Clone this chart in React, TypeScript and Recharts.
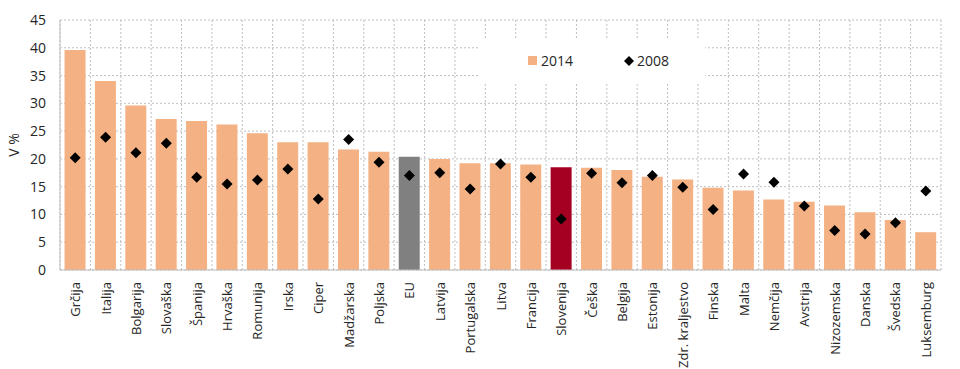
import { ComposedChart, Bar, Line, XAxis, YAxis, CartesianGrid, Cell } from 'recharts';

// Stopnja tveganja revščine ali socialne izključenosti, 2014 vs 2008
const countries = [
    'Grčija', 'Italija', 'Bolgarija', 'Slovaška', 'Španija', 'Hrvaška', 'Romunija', 'Irska', 'Ciper',
    'Madžarska', 'Poljska', 'EU', 'Latvija', 'Portugalska', 'Litva', 'Francija', 'Slovenija', 'Češka',
    'Belgija', 'Estonija', 'Zdr. kraljestvo', 'Finska', 'Malta', 'Nemčija', 'Avstrija', 'Nizozemska',
    'Danska', 'Švedska', 'Luksemburg',
];
const values2014 = [
    39.6, 34.0, 29.6, 27.2, 26.8, 26.2, 24.6, 23.0, 23.0,
    21.7, 21.3, 20.4, 20.0, 19.2, 19.2, 19.0, 18.5, 18.4,
    18.0, 16.8, 16.3, 14.8, 14.3, 12.7, 12.3, 11.6,
    10.4, 9.0, 6.8,
];
const values2008 = [
    20.2, 23.9, 21.1, 22.8, 16.7, 15.5, 16.2, 18.2, 12.8,
    23.5, 19.4, 17.0, 17.5, 14.6, 19.1, 16.7, 9.2, 17.4,
    15.7, 17.0, 14.9, 10.9, 17.3, 15.8, 11.5, 7.1,
    6.5, 8.5, 14.2,
];
const yTicks = [0, 5, 10, 15, 20, 25, 30, 35, 40, 45];

const data = countries.map((name, i) => ({ name, y2014: values2014[i], y2008: values2008[i] }));

const FONT = "'Segoe UI', 'Open Sans', sans-serif";
const ORANGE = '#F4B183';
const GRID = '#BFBFBF';
const TEXT = '#262626';

const barColor = (name: string) => (name === 'EU' ? '#808080' : name === 'Slovenija' ? '#A50021' : ORANGE);

function CountryTick({ x, y, payload }: any) {
    return (
        <text
            transform={`translate(${x},${y + 4}) rotate(-90)`}
            textAnchor="end"
            dominantBaseline="central"
            fontSize={13}
            fontFamily={FONT}
            fill={TEXT}
        >
            {payload.value}
        </text>
    );
}

function Diamond({ cx, cy }: any) {
    if (cx == null || cy == null) return null;
    const r = 5.5;
    return <polygon points={`${cx},${cy - r} ${cx + r},${cy} ${cx},${cy + r} ${cx - r},${cy}`} fill="#000" />;
}

function LegendBox() {
    return (
        <div
            style={{
                position: 'absolute',
                left: 480,
                top: 38,
                width: 225,
                height: 45,
                background: '#fff',
                display: 'flex',
                alignItems: 'center',
                fontFamily: FONT,
                fontSize: 14,
                color: TEXT,
            }}
        >
            <span style={{ display: 'inline-block', width: 9, height: 9, background: ORANGE, marginLeft: 48, marginRight: 4 }} />
            <span>2014</span>
            <svg width={12} height={12} style={{ marginLeft: 50, marginRight: 2 }}>
                <polygon points="6,1 11,6 6,11 1,6" fill="#000" />
            </svg>
            <span>2008</span>
        </div>
    );
}

export default function App() {
    return (
        <div style={{ position: 'absolute', left: 0, top: 0, width: 960, height: 369, background: '#fff' }}>
            <ComposedChart
                width={960}
                height={369}
                data={data}
                margin={{ top: 20, right: 19, bottom: 0, left: 0 }}
                barCategoryGap="15%"
            >
                <CartesianGrid
                    stroke={GRID}
                    strokeDasharray="2 2"
                    verticalCoordinatesGenerator={({ offset }: any) =>
                        Array.from({ length: countries.length + 1 }, (_, i) => offset.left + (i * offset.width) / countries.length)
                    }
                />
                <XAxis
                    dataKey="name"
                    interval={0}
                    height={99}
                    tick={<CountryTick />}
                    tickLine={false}
                    axisLine={{ stroke: GRID }}
                />
                <XAxis xAxisId="top" dataKey="name" orientation="top" height={0} tick={false} tickLine={false} axisLine={{ stroke: GRID }} />
                <YAxis
                    domain={[0, 45]}
                    ticks={yTicks}
                    width={60}
                    tickLine={false}
                    axisLine={{ stroke: GRID }}
                    tick={{ fontSize: 14, fill: TEXT, fontFamily: FONT }}
                    tickMargin={8}
                    label={{ value: 'V %', angle: -90, position: 'center', dx: -16, fontSize: 14, fill: TEXT, fontFamily: FONT }}
                />
                <YAxis yAxisId="right" orientation="right" width={0} domain={[0, 45]} tick={false} tickLine={false} axisLine={{ stroke: GRID }} />
                <Bar dataKey="y2014" name="2014" isAnimationActive={false}>
                    {data.map((d) => (
                        <Cell key={d.name} fill={barColor(d.name)} />
                    ))}
                </Bar>
                <Line
                    dataKey="y2008"
                    name="2008"
                    stroke="none"
                    strokeWidth={0}
                    dot={<Diamond />}
                    activeDot={false}
                    isAnimationActive={false}
                />
            </ComposedChart>
            <LegendBox />
        </div>
    );
}
